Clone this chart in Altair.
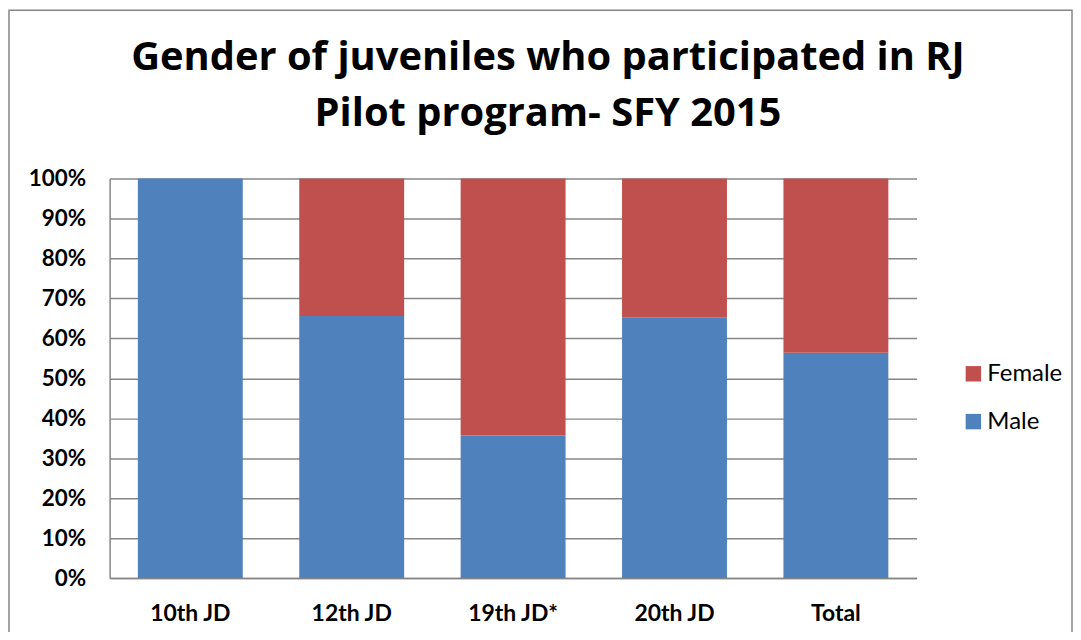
import altair as alt
import pandas as pd

categories = ["10th JD", "12th JD", "19th JD*", "20th JD", "Total"]
male = [100.0, 65.6, 35.7, 65.3, 56.4]
female = [0.0, 34.4, 64.3, 34.7, 43.6]
y_ticks = [0, 10, 20, 30, 40, 50, 60, 70, 80, 90, 100]

rows = []
for c, m, f in zip(categories, male, female):
    rows.append({"jd": c, "gender": "Male", "pct": m / 100, "ord": 0})
    rows.append({"jd": c, "gender": "Female", "pct": f / 100, "ord": 1})
df = pd.DataFrame(rows)

FONT = "Lato"

bars = alt.Chart(df).mark_bar().encode(
    x=alt.X("jd:N", sort=categories, title=None,
            scale=alt.Scale(paddingInner=0.35, paddingOuter=0.175),
            axis=alt.Axis(labelAngle=0, ticks=False, grid=False, labelPadding=25,
                          labelFontSize=23, labelFontWeight="bold", labelFont=FONT,
                          labelColor="#000000", domainColor="#868686", domainWidth=1.5)),
    y=alt.Y("pct:Q", stack="zero", title=None,
            scale=alt.Scale(domain=[0, 1], nice=False),
            axis=alt.Axis(values=[v / 100 for v in y_ticks], format=".0%", ticks=False,
                          labelPadding=24, labelFontSize=22.5, labelFontWeight="bold",
                          labelFont=FONT, labelColor="#000000", gridColor="#868686",
                          gridWidth=1.5, domainColor="#868686", domainWidth=1.5)),
    color=alt.Color("gender:N",
                    scale=alt.Scale(domain=["Female", "Male"], range=["#C0504D", "#4F81BD"]),
                    legend=alt.Legend(title=None, orient="none", legendX=855, legendY=184,
                                      symbolType="square", symbolSize=240, symbolStrokeWidth=0,
                                      labelFontSize=24, labelFont=FONT, labelColor="#000000",
                                      rowPadding=24, labelOffset=2)),
    order=alt.Order("ord:Q", sort="ascending"),
)

frame = alt.Chart(pd.DataFrame({"a": [0]})).mark_rect(
    fill=None, stroke="#868686", strokeWidth=1.5
).encode(
    x=alt.value(-101), x2=alt.value(966), y=alt.value(-169), y2=alt.value(700)
)

chart = alt.layer(frame, bars).properties(
    width=810, height=401,
    autosize=alt.AutoSizeParams(type="none"),
    padding={"left": 102, "top": 170, "right": 157, "bottom": 53},
    title=alt.TitleParams(
        text=["Gender of juveniles who participated in RJ", "Pilot program- SFY 2015"],
        fontSize=40, font="Open Sans", fontWeight="bold", color="#000000",
        anchor="middle", frame="group", dx=35, offset=-125, lineHeight=56,
    ),
).configure_view(stroke=None)

chart.save("out.html", embed_options={"renderer": "svg", "actions": False})
